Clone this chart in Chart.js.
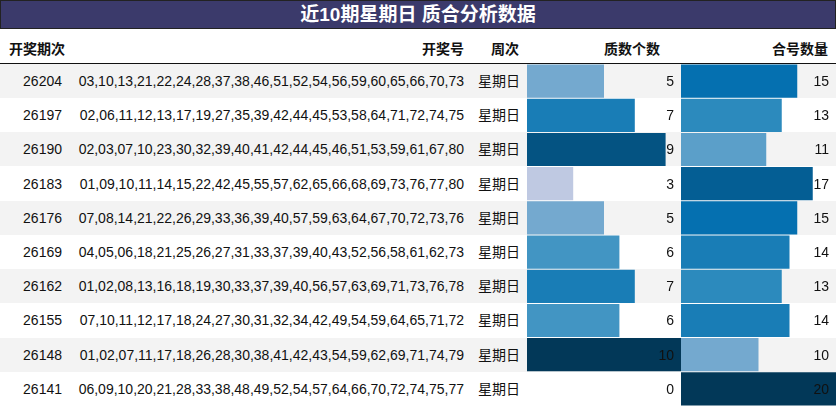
<!DOCTYPE html>
<html><head><meta charset="utf-8">
<script src="https://cdn.jsdelivr.net/npm/chart.js@4"></script>
<style>
body{margin:0;width:836px;height:406px;overflow:hidden;background:#fff;font-family:"Liberation Sans","Noto Sans CJK SC",sans-serif;font-size:14px;color:#111}
#title{position:absolute;left:0;top:0;width:834px;height:27px;background:#3b3a6b;border:1px solid #222;color:#fff;font-weight:bold;font-size:19px;text-align:center;line-height:28px}
.hd{position:absolute;top:38px;font-weight:bold;font-size:14px}
#hline{position:absolute;left:0;top:63px;width:836px;height:1px;background:#111}
.row{position:absolute;left:0;width:836px;height:34px;line-height:34px}
.row span{position:absolute}
canvas{position:absolute}
</style></head><body>
<div id="title">近10期星期日 质合分析数据</div>
<div class="hd" style="left:9px">开奖期次</div>
<div class="hd" style="left:422px">开奖号</div>
<div class="hd" style="left:491px">周次</div>
<div class="hd" style="left:604px">质数个数</div>
<div class="hd" style="left:772px">合号数量</div>
<div id="hline"></div>
<div id="rows"></div>
<div style="position:absolute;left:527px;top:64px;width:154px;height:342px"><canvas id="prime"></canvas></div>
<div style="position:absolute;left:681px;top:64px;width:155px;height:342px"><canvas id="comp"></canvas></div>
<script>
const issues = ['26204','26197','26190','26183','26176','26169','26162','26155','26148','26141'];
const numbers = [
  '03,10,13,21,22,24,28,37,38,46,51,52,54,56,59,60,65,66,70,73',
  '02,06,11,12,13,17,19,27,35,39,42,44,45,53,58,64,71,72,74,75',
  '02,03,07,10,23,30,32,39,40,41,42,44,45,46,51,53,59,61,67,80',
  '01,09,10,11,14,15,22,42,45,55,57,62,65,66,68,69,73,76,77,80',
  '07,08,14,21,22,26,29,33,36,39,40,57,59,63,64,67,70,72,73,76',
  '04,05,06,18,21,25,26,27,31,33,37,39,40,43,52,56,58,61,62,73',
  '01,02,08,13,16,18,19,30,33,37,39,40,56,57,63,69,71,73,76,78',
  '07,10,11,12,17,18,24,27,30,31,32,34,42,49,54,59,64,65,71,72',
  '01,02,07,11,17,18,26,28,30,38,41,42,43,54,59,62,69,71,74,79',
  '06,09,10,20,21,28,33,38,48,49,52,54,57,64,66,70,72,74,75,77'
];
const weekday = '星期日';
const primeCounts = [5, 7, 9, 3, 5, 6, 7, 6, 10, 0];
const compCounts = [15, 13, 11, 17, 15, 14, 13, 14, 10, 20];

const rowsEl = document.getElementById('rows');
issues.forEach((id, i) => {
  const r = document.createElement('div');
  r.className = 'row';
  r.style.top = (64 + i * 34.2) + 'px';
  r.style.background = i % 2 === 0 ? '#f3f3f3' : '#fff';
  r.innerHTML = `<span style="right:774px">${id}</span><span style="right:372px">${numbers[i]}</span><span style="left:478px">${weekday}</span>`;
  rowsEl.appendChild(r);
});

// PuBu colour ramp
const stops = ['#fff7fb','#ece7f2','#d0d1e6','#a6bddb','#74a9cf','#3690c0','#0570b0','#045a8d','#023858'];
function ramp(t) {
  const p = Math.max(0, Math.min(1, t)) * (stops.length - 1);
  const i = Math.min(Math.floor(p), stops.length - 2), f = p - i;
  const a = parseInt(stops[i].slice(1), 16), b = parseInt(stops[i + 1].slice(1), 16);
  const c = [16, 8, 0].map(s => Math.round(((a >> s) & 255) * (1 - f) + ((b >> s) & 255) * f));
  return `rgb(${c.join(',')})`;
}

const labelPlugin = {
  id: 'vals',
  afterDatasetsDraw(chart) {
    const ctx = chart.ctx, meta = chart.getDatasetMeta(0);
    ctx.save();
    ctx.font = '14px "Liberation Sans", sans-serif';
    ctx.textAlign = 'right';
    ctx.textBaseline = 'middle';
    ctx.fillStyle = '#111';
    meta.data.forEach((bar, i) => {
      ctx.fillText(chart.data.datasets[0].data[i], chart.chartArea.right - 7, bar.y + 1);
    });
    ctx.restore();
  }
};

function makeBars(id, values, max) {
  new Chart(document.getElementById(id), {
    type: 'bar',
    data: {
      labels: issues,
      datasets: [{
        data: values,
        backgroundColor: values.map(v => ramp(v / max)),
        borderWidth: 0,
        barPercentage: 0.97,
        categoryPercentage: 1
      }]
    },
    options: {
      indexAxis: 'y',
      responsive: true,
      maintainAspectRatio: false,
      animation: false,
      layout: { padding: 0 },
      plugins: { legend: { display: false }, tooltip: { enabled: false } },
      scales: {
        x: { display: false, min: 0, max: max },
        y: { display: false }
      }
    },
    plugins: [labelPlugin]
  });
}
makeBars('prime', primeCounts, 10);
makeBars('comp', compCounts, 20);
</script>
</body></html>
